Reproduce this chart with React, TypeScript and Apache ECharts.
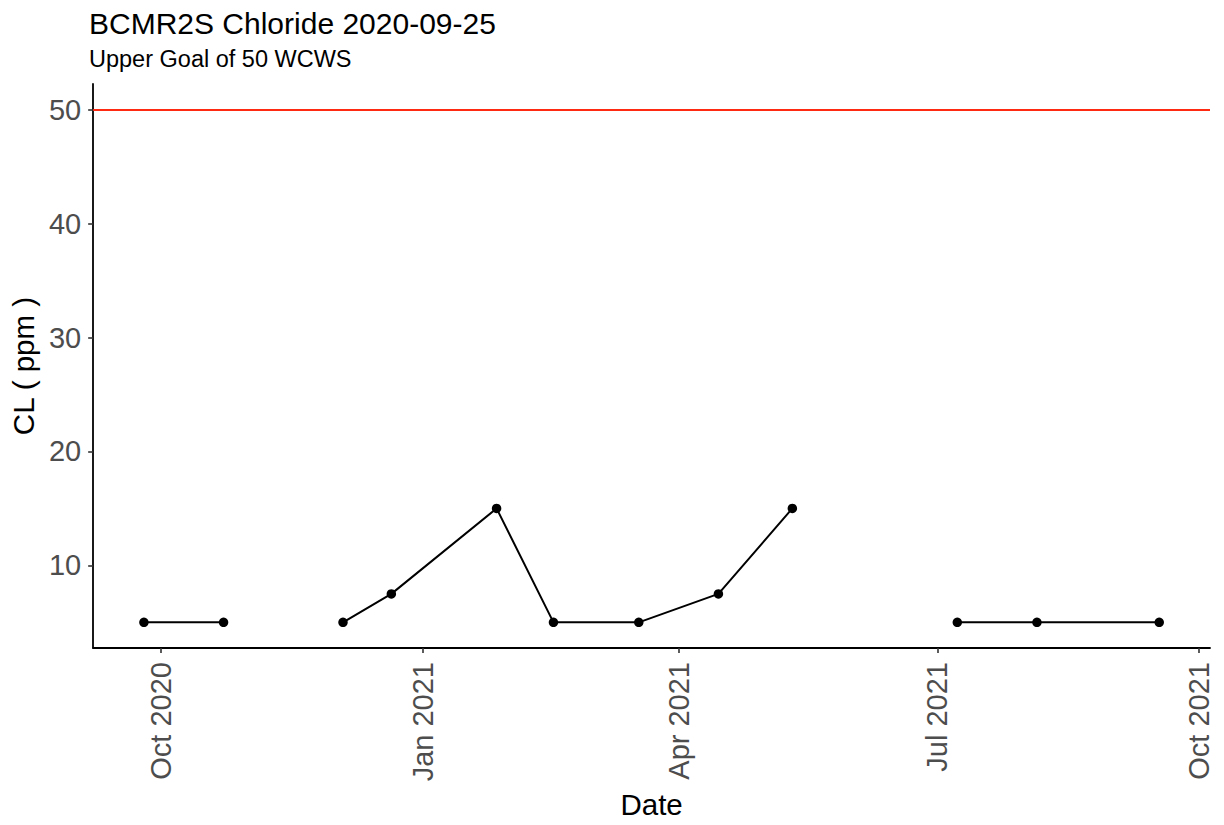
import React, { useEffect, useRef } from "react";
import * as echarts from "echarts";

const TITLE = "BCMR2S Chloride 2020-09-25";
const SUBTITLE = "Upper Goal of 50 WCWS";
const X_NAME = "Date";
const Y_NAME = "CL ( ppm )";
const UPPER_GOAL = 50;

const sampleDates: string[] = [
  "2020-09-25", "2020-10-23", "2020-11-13", "2020-12-04", "2020-12-21",
  "2021-01-27", "2021-02-16", "2021-03-18", "2021-04-15", "2021-05-11",
  "2021-06-10", "2021-07-08", "2021-08-05", "2021-09-17",
];
const clValues: (number | null)[] = [
  5, 5, null, 5, 7.5,
  15, 5, 5, 7.5, 15,
  null, 5, 5, 5,
];
const xTickDates: string[] = ["2020-10-01", "2021-01-01", "2021-04-01", "2021-07-01", "2021-10-01"];
const yTickValues: number[] = [10, 20, 30, 40, 50];
const MONTHS = ["Jan", "Feb", "Mar", "Apr", "May", "Jun", "Jul", "Aug", "Sep", "Oct", "Nov", "Dec"];

const toMs = (s: string) => {
  const [y, m, d] = s.split("-").map(Number);
  return Date.UTC(y, m - 1, d);
};

export default function App() {
  const ref = useRef<HTMLDivElement>(null);
  useEffect(() => {
    if (!ref.current) return;
    const chart = echarts.init(ref.current, null, { renderer: "svg" });
    const xs = sampleDates.map(toMs);
    const xMinData = Math.min(...xs);
    const xMaxData = Math.max(...xs);
    const xPad = (xMaxData - xMinData) * 0.05;
    const yVals = [...(clValues.filter((v) => v !== null) as number[]), UPPER_GOAL];
    const yMinData = Math.min(...yVals);
    const yMaxData = Math.max(...yVals);
    const yPad = (yMaxData - yMinData) * 0.05;
    const font = "'Liberation Sans', Arial, Helvetica, sans-serif";

    chart.setOption({
      animation: false,
      backgroundColor: "#ffffff",
      title: [
        {
          text: TITLE,
          left: 89,
          top: 8,
          padding: 0,
          textStyle: { fontFamily: font, fontSize: 30, fontWeight: "normal", color: "#000000" },
        },
        {
          text: SUBTITLE,
          left: 89,
          top: 47,
          padding: 0,
          textStyle: { fontFamily: font, fontSize: 23.5, fontWeight: "normal", color: "#000000" },
        },
      ],
      grid: { left: 90, right: 14, top: 84, bottom: 177, containLabel: false },
      xAxis: {
        type: "value",
        min: xMinData - xPad,
        max: xMaxData + xPad,
        name: X_NAME,
        nameLocation: "middle",
        nameGap: 138,
        nameTextStyle: { fontFamily: font, fontSize: 29.5, color: "#000000", verticalAlign: "top" },
        splitLine: { show: false },
        axisLine: { show: true, lineStyle: { color: "#000000", width: 1.8 } },
        axisTick: {
          show: true,
          length: 5,
          lineStyle: { color: "#333333", width: 1.6 },
          customValues: xTickDates.map(toMs),
        },
        axisLabel: {
          rotate: 90,
          margin: 14,
          fontFamily: font,
          fontSize: 29,
          color: "#4D4D4D",
          padding: [20, 0, 0, 0],
          customValues: xTickDates.map(toMs),
          formatter: (v: number) => {
            const d = new Date(v);
            return `${MONTHS[d.getUTCMonth()]} ${d.getUTCFullYear()}`;
          },
        },
      },
      yAxis: {
        type: "value",
        min: yMinData - yPad,
        max: yMaxData + yPad,
        name: Y_NAME,
        nameLocation: "middle",
        nameRotate: 90,
        nameGap: 48,
        nameTextStyle: { fontFamily: font, fontSize: 29.5, color: "#000000" },
        splitLine: { show: false },
        axisLine: { show: true, lineStyle: { color: "#000000", width: 1.8 } },
        axisTick: {
          show: true,
          length: 5,
          lineStyle: { color: "#333333", width: 1.6 },
          customValues: yTickValues,
        },
        axisLabel: {
          margin: 12,
          fontFamily: font,
          fontSize: 29,
          color: "#4D4D4D",
          customValues: yTickValues,
        },
      },
      series: [
        {
          type: "line",
          data: xs.map((x, i) => [x, clValues[i]]),
          connectNulls: false,
          symbol: "circle",
          symbolSize: 9.5,
          itemStyle: { color: "#000000" },
          lineStyle: { color: "#000000", width: 2 },
          markLine: {
            silent: true,
            symbol: ["none", "none"],
            label: { show: false },
            lineStyle: { color: "#FF2A12", width: 2, type: "solid" },
            data: [{ yAxis: UPPER_GOAL }],
          },
        },
      ],
    });
    return () => chart.dispose();
  }, []);

  return <div ref={ref} style={{ width: 1224, height: 825, position: "absolute", left: 0, top: 0 }} />;
}
